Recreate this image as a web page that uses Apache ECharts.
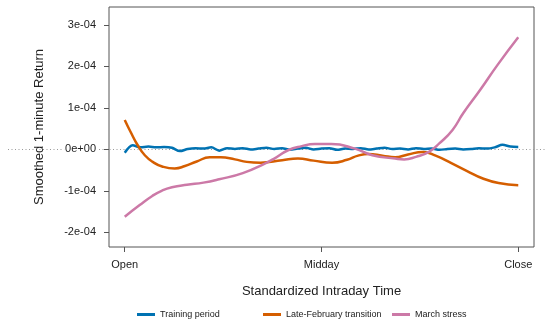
<!DOCTYPE html>
<html>
<head>
<meta charset="utf-8">
<title>Smoothed intraday return profiles</title>
<script src="https://cdn.jsdelivr.net/npm/echarts@6/dist/echarts.min.js"></script>
<style>
  html, body { margin: 0; padding: 0; background: #fff; }
  #chart { width: 545px; height: 320px; }
</style>
</head>
<body>
<div id="chart"></div>
<script>
// Returns are stored in units of 1e-4; time runs from 0 (open) to 1 (close).

// Training period: fine-grained, nearly flat profile on a regular time grid
const trainingTime = [
  0.00, 0.02, 0.04, 0.06, 0.08, 0.10, 0.12, 0.14, 0.16, 0.18,
  0.20, 0.22, 0.24, 0.26, 0.28, 0.30, 0.32, 0.34, 0.36, 0.38,
  0.40, 0.42, 0.44, 0.46, 0.48, 0.50, 0.52, 0.54, 0.56, 0.58,
  0.60, 0.62, 0.64, 0.66, 0.68, 0.70, 0.72, 0.74, 0.76, 0.78,
  0.80, 0.82, 0.84, 0.86, 0.88, 0.90, 0.92, 0.94, 0.96, 0.98, 1.00
];
const trainingReturn = [
  -0.08, 0.10, 0.05, 0.07, 0.05, 0.06, 0.04, -0.04, 0.01, 0.03,
  0.02, 0.05, -0.03, 0.03, 0.01, 0.03, 0.00, 0.02, 0.04, 0.01,
  0.03, -0.01, 0.02, 0.04, 0.00, 0.02, 0.03, -0.01, 0.02, 0.01,
  0.03, 0.00, 0.02, 0.04, 0.01, 0.02, 0.00, 0.03, 0.01, 0.02,
  -0.01, 0.01, 0.02, 0.00, 0.01, 0.03, 0.02, 0.05, 0.11, 0.07, 0.06
];

// Late-February transition
const febTime = [
  0.000, 0.015, 0.033, 0.051, 0.071, 0.095, 0.127, 0.153, 0.183, 0.216,
  0.244, 0.280, 0.310, 0.345, 0.400, 0.440, 0.480, 0.527, 0.565, 0.593,
  0.619, 0.655, 0.687, 0.720, 0.758, 0.790, 0.830, 0.870, 0.910, 0.950, 1.000
];
const febReturn = [
  0.71, 0.42, 0.10, -0.14, -0.30, -0.41, -0.46, -0.40, -0.29, -0.19,
  -0.19, -0.24, -0.30, -0.32, -0.26, -0.22, -0.27, -0.32, -0.25, -0.15,
  -0.11, -0.15, -0.19, -0.12, -0.06, -0.15, -0.33, -0.52, -0.70, -0.81, -0.86
];

// March stress
const marchTime = [
  0.000, 0.038, 0.070, 0.095, 0.120, 0.158, 0.200, 0.240, 0.300, 0.356,
  0.380, 0.415, 0.450, 0.483, 0.525, 0.585, 0.629, 0.687, 0.710, 0.740,
  0.773, 0.800, 0.833, 0.860, 0.903, 0.947, 1.000
];
const marchReturn = [
  -1.62, -1.34, -1.12, -0.99, -0.91, -0.85, -0.80, -0.72, -0.57, -0.34,
  -0.22, -0.02, 0.08, 0.13, 0.13, 0.02, -0.14, -0.22, -0.24, -0.18,
  -0.06, 0.15, 0.47, 0.87, 1.43, 2.03, 2.70
];

const seriesNames = ['Training period', 'Late-February transition', 'March stress'];
const seriesColors = ['#0072B2', '#D55E00', '#CC79A7'];

const xTickValues = [0, 0.5, 1];
const xTickLabels = ['Open', 'Midday', 'Close'];
const yTickValues = [-2, -1, 0, 1, 2, 3];
const yTickLabels = ['-2e-04', '-1e-04', '0e+00', '1e-04', '2e-04', '3e-04'];

const FONT = "'Liberation Sans', Arial, Helvetica, sans-serif";
const AXIS_GRAY = '#555';
const TEXT_COLOR = '#222';

function pairs(xs, ys) {
  return xs.map((x, i) => [x, ys[i]]);
}

const chart = echarts.init(document.getElementById('chart'), null, { renderer: 'canvas' });

const legendLefts = [137, 263, 392];

chart.setOption({
  animation: false,
  backgroundColor: '#fff',
  textStyle: { fontFamily: FONT },
  grid: {
    left: 109, right: 11, top: 7, bottom: 73,
    show: true, borderColor: AXIS_GRAY, borderWidth: 1, backgroundColor: 'transparent'
  },
  legend: seriesNames.map((name, i) => ({
    data: [name],
    left: legendLefts[i],
    top: 310,
    padding: 0,
    icon: 'rect',
    itemWidth: 18,
    itemHeight: 3,
    itemGap: 0,
    textStyle: { fontFamily: FONT, fontSize: 9, color: TEXT_COLOR }
  })),
  xAxis: {
    type: 'value',
    min: -0.04,
    max: 1.04,
    name: 'Standardized Intraday Time',
    nameLocation: 'middle',
    nameGap: 38,
    nameTextStyle: { fontFamily: FONT, fontSize: 13, color: TEXT_COLOR },
    axisLine: { show: false, onZero: false },
    splitLine: { show: false },
    axisTick: {
      show: true, length: 5, inside: false,
      customValues: xTickValues,
      lineStyle: { color: AXIS_GRAY, width: 1 }
    },
    axisLabel: {
      customValues: xTickValues,
      margin: 12,
      fontFamily: FONT, fontSize: 11, color: TEXT_COLOR,
      formatter: v => xTickLabels[xTickValues.indexOf(v)] ?? ''
    }
  },
  yAxis: {
    type: 'value',
    min: -2.35,
    max: 3.43,
    name: 'Smoothed 1-minute Return',
    nameLocation: 'middle',
    nameGap: 63,
    nameTextStyle: { fontFamily: FONT, fontSize: 13, color: TEXT_COLOR },
    axisLine: { show: false, onZero: false },
    splitLine: { show: false },
    axisTick: {
      show: true, length: 5, inside: false,
      customValues: yTickValues,
      lineStyle: { color: AXIS_GRAY, width: 1 }
    },
    axisLabel: {
      customValues: yTickValues,
      margin: 12,
      fontFamily: FONT, fontSize: 11, color: TEXT_COLOR,
      backgroundColor: '#fff',
      padding: [0, 1],
      formatter: v => yTickLabels[yTickValues.indexOf(v)] ?? ''
    }
  },
  series: [
    {
      name: seriesNames[0],
      type: 'line',
      data: pairs(trainingTime, trainingReturn),
      showSymbol: false,
      smooth: 0.3,
      lineStyle: { width: 2.5, color: seriesColors[0] },
      itemStyle: { color: seriesColors[0] },
      z: 3
    },
    {
      name: seriesNames[1],
      type: 'line',
      data: pairs(febTime, febReturn),
      showSymbol: false,
      smooth: 0.5,
      lineStyle: { width: 2.5, color: seriesColors[1] },
      itemStyle: { color: seriesColors[1] },
      z: 4
    },
    {
      name: seriesNames[2],
      type: 'line',
      data: pairs(marchTime, marchReturn),
      showSymbol: false,
      smooth: 0.5,
      lineStyle: { width: 2.5, color: seriesColors[2] },
      itemStyle: { color: seriesColors[2] },
      z: 5
    }
  ]
});

// Dotted zero reference line spanning the full width of the figure
const zeroY = Math.round(chart.convertToPixel({ yAxisIndex: 0 }, 0)) + 0.5;
chart.setOption({
  graphic: [{
    type: 'line',
    z: 0,
    silent: true,
    shape: { x1: 8, y1: zeroY, x2: 545, y2: zeroY },
    style: { stroke: '#999', lineWidth: 1, lineDash: [1, 2.5] }
  }]
});
</script>
</body>
</html>
